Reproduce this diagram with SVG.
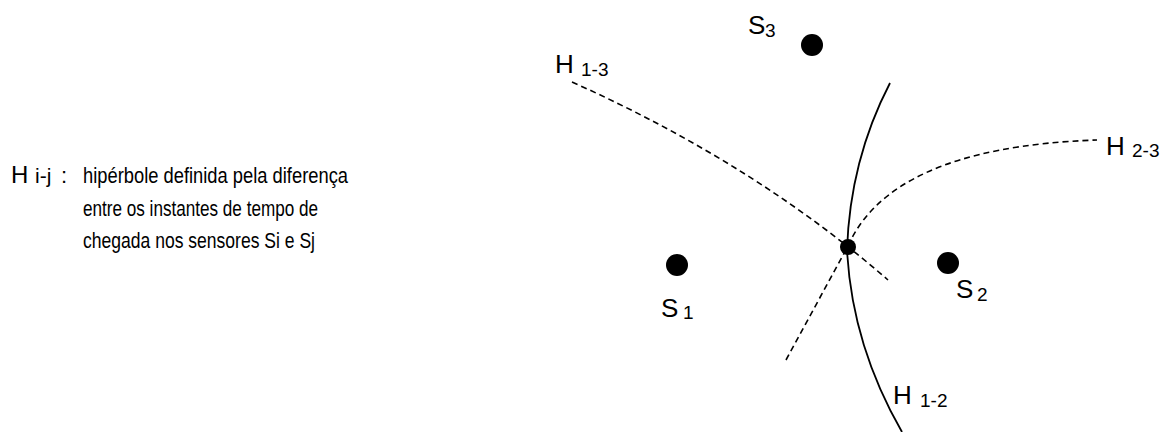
<svg xmlns="http://www.w3.org/2000/svg" width="1175" height="432" viewBox="0 0 1175 432">
<style>
.t{font-family:"Liberation Sans",Arial,sans-serif;fill:#000}
.lbl{font-size:26px}
.sub{font-size:19px}
.desc{font-size:22px}
.dash{fill:none;stroke:#000;stroke-width:1.6;stroke-dasharray:6 4}
.solid{fill:none;stroke:#000;stroke-width:1.8}
.dot{fill:#000}
</style>
<rect width="1175" height="432" fill="#fff"/>
<g id="legend">
<text class="t" x="11" y="183" font-size="24">H</text>
<text class="t" x="35" y="183" font-size="21">i-j</text>
<text class="t" x="61" y="183" font-size="22">:</text>
<text class="t desc" x="83" y="183" textLength="265" lengthAdjust="spacingAndGlyphs">hipérbole definida pela diferença</text>
<text class="t desc" x="83" y="216" textLength="235" lengthAdjust="spacingAndGlyphs">entre os instantes de tempo de</text>
<text class="t desc" x="83" y="248" textLength="232" lengthAdjust="spacingAndGlyphs">chegada nos sensores Si e Sj</text>
</g>
<g id="connectors">
<path id="h13" class="dash" d="M572,82 Q755,164 888,280"/>
<path id="h12" class="solid" d="M890,83 Q850,160 847,250 Q852,345 902,432"/>
<path id="h23" class="dash" d="M786,360 L848,246 C875,185 950,145 1097,140"/>
</g>
<g id="S1">
<circle class="dot" cx="677" cy="265" r="11"/>
<text class="t lbl" x="661" y="317">S</text><text class="t sub" x="683" y="319">1</text>
</g>
<g id="S2">
<circle class="dot" cx="948" cy="263" r="11"/>
<text class="t lbl" x="956" y="298">S</text><text class="t sub" x="977" y="301">2</text>
</g>
<g id="S3">
<circle class="dot" cx="812" cy="45" r="11"/>
<text class="t lbl" x="748" y="34">S</text><text class="t sub" x="765" y="37">3</text>
</g>
<g id="intersection">
<circle class="dot" cx="848" cy="247" r="8"/>
</g>
<g id="labels">
<text class="t lbl" x="555" y="73">H</text><text class="t sub" x="581" y="76">1-3</text>
<text class="t lbl" x="1106" y="155">H</text><text class="t sub" x="1132" y="157">2-3</text>
<text class="t lbl" x="893" y="404">H</text><text class="t sub" x="920" y="407">1-2</text>
</g>
</svg>
